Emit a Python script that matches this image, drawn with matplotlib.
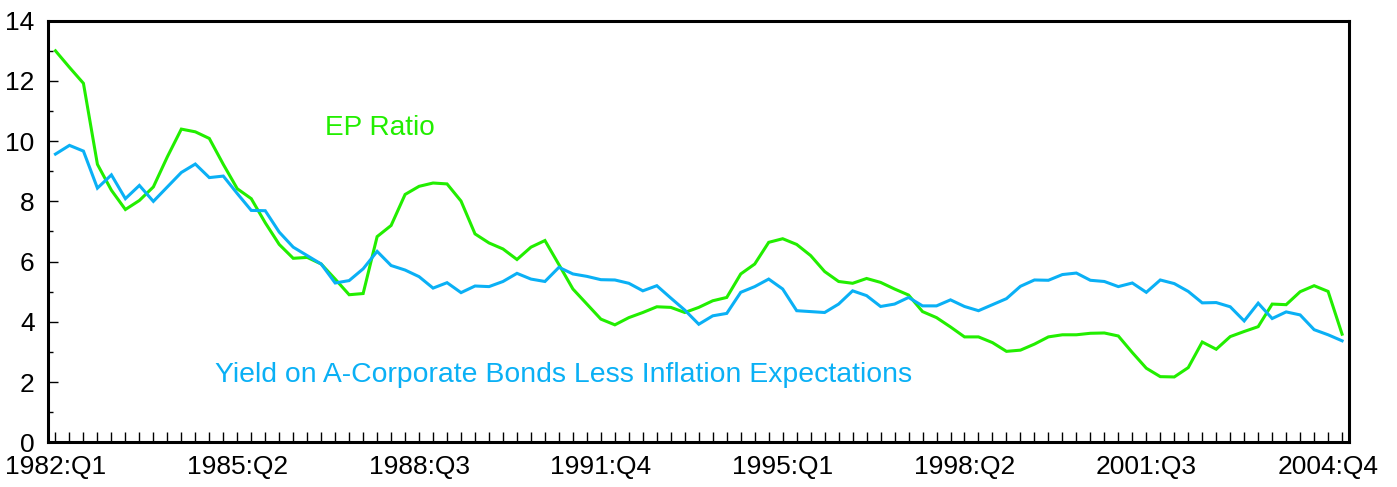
import matplotlib
matplotlib.use("Agg")
import matplotlib.pyplot as plt
from matplotlib.ticker import MultipleLocator, FixedLocator

plt.rcParams['font.family'] = ['Liberation Sans', 'DejaVu Sans']

# Quarterly data 1982:Q1 .. 2005:Q1
ep_ratio = [13.0, 12.45, 11.92, 9.23, 8.37, 7.73, 8.03, 8.48, 9.48, 10.40,
            10.31, 10.09, 9.23, 8.42, 8.09, 7.29, 6.57, 6.11, 6.14, 5.92,
            5.42, 4.90, 4.94, 6.83, 7.20, 8.23, 8.50, 8.61, 8.58, 8.01,
            6.92, 6.62, 6.42, 6.07, 6.48, 6.70, 5.90, 5.09, 4.59, 4.09,
            3.90, 4.14, 4.31, 4.50, 4.48, 4.31, 4.48, 4.70, 4.81, 5.59,
            5.92, 6.64, 6.76, 6.57, 6.20, 5.67, 5.34, 5.28, 5.44, 5.31,
            5.09, 4.89, 4.34, 4.14, 3.83, 3.50, 3.50, 3.31, 3.02, 3.06,
            3.26, 3.50, 3.57, 3.57, 3.62, 3.63, 3.53, 2.98, 2.46, 2.18,
            2.17, 2.48, 3.33, 3.09, 3.51, 3.68, 3.84, 4.59, 4.57, 5.00,
            5.20, 5.01, 3.59]

bond_yield = [9.57, 9.86, 9.67, 8.44, 8.88, 8.09, 8.53, 8.00, 8.48, 8.96,
              9.24, 8.79, 8.84, 8.26, 7.70, 7.69, 6.98, 6.48, 6.20, 5.92,
              5.29, 5.37, 5.76, 6.34, 5.87, 5.72, 5.50, 5.12, 5.30, 4.97,
              5.19, 5.17, 5.34, 5.61, 5.42, 5.34, 5.81, 5.59, 5.51, 5.40,
              5.39, 5.28, 5.03, 5.20, 4.79, 4.39, 3.92, 4.20, 4.28, 4.98,
              5.17, 5.42, 5.09, 4.37, 4.34, 4.31, 4.59, 5.03, 4.87, 4.51,
              4.59, 4.81, 4.53, 4.53, 4.73, 4.51, 4.37, 4.57, 4.77, 5.18,
              5.39, 5.38, 5.57, 5.62, 5.38, 5.34, 5.17, 5.29, 4.98, 5.39,
              5.27, 5.01, 4.63, 4.64, 4.50, 4.03, 4.62, 4.11, 4.33, 4.23,
              3.74, 3.57, 3.37]

tick_positions = [0, 13, 26, 39, 52, 65, 78, 91]
tick_labels = ['1982:Q1', '1985:Q2', '1988:Q3', '1991:Q4',
               '1995:Q1', '1998:Q2', '2001:Q3', '2004:Q4']

green = '#22EE00'
blue = '#0AB0F5'

fig = plt.figure(figsize=(13.97, 4.87), dpi=100)
ax = fig.add_axes([0.0347, 0.0918, 0.931, 0.8657])

x = list(range(len(ep_ratio)))
ax.plot(x, ep_ratio, color=green, lw=2.2, solid_joinstyle='miter')
ax.plot(x, bond_yield, color=blue, lw=2.2, solid_joinstyle='miter')

ax.set_xlim(-0.5, len(ep_ratio) - 0.5)
ax.set_ylim(0, 14)

ax.yaxis.set_major_locator(MultipleLocator(2))
ax.yaxis.set_minor_locator(MultipleLocator(1))
ax.xaxis.set_major_locator(FixedLocator(tick_positions))
ax.set_xticklabels(tick_labels)
ax.xaxis.set_minor_locator(FixedLocator(x))

ax.tick_params(axis='both', which='both', direction='in', color='black',
               width=1.0, labelsize=19)
ax.tick_params(axis='x', which='both', length=7.2, pad=9)
ax.tick_params(axis='y', which='major', length=7.2, pad=10)
ax.tick_params(axis='y', which='minor', length=3.6)

for sp in ax.spines.values():
    sp.set_linewidth(2.2)
    sp.set_color('black')

ax.text(19.3, 10.44, 'EP Ratio', color=green, fontsize=20.2,
        ha='left', va='center')
ax.text(11.43, 2.24, 'Yield on A-Corporate Bonds Less Inflation Expectations',
        color=blue, fontsize=20.4, ha='left', va='center')

fig.savefig('out.png', dpi=100)
